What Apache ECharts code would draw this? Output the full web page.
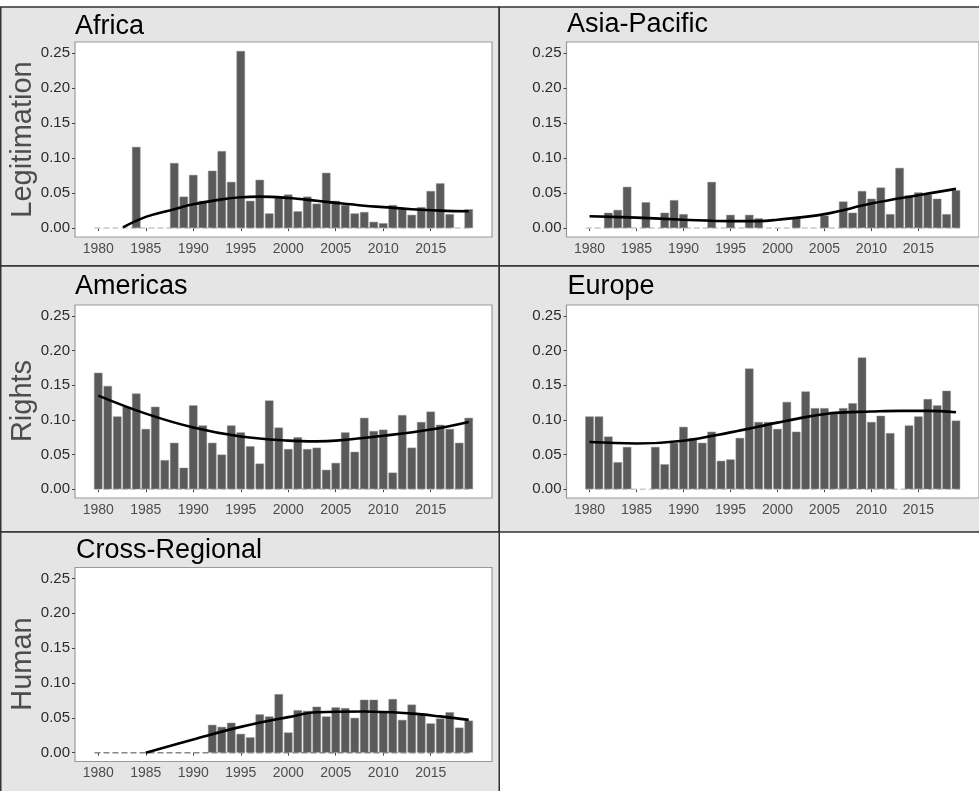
<!DOCTYPE html>
<html>
<head>
<meta charset="utf-8">
<script src="https://cdn.jsdelivr.net/npm/echarts@6/dist/echarts.min.js"></script>
<style>
  html, body { margin: 0; padding: 0; background: #fff; }
  #chart { width: 979px; height: 791px; }
</style>
</head>
<body>
<div id="chart"></div>
<script>
// years on the x axis
const years = [1980, 1981, 1982, 1983, 1984, 1985, 1986, 1987, 1988, 1989,
  1990, 1991, 1992, 1993, 1994, 1995, 1996, 1997, 1998, 1999,
  2000, 2001, 2002, 2003, 2004, 2005, 2006, 2007, 2008, 2009,
  2010, 2011, 2012, 2013, 2014, 2015, 2016, 2017, 2018, 2019];
const xTicks = [1980, 1985, 1990, 1995, 2000, 2005, 2010, 2015];
const yTicks = [0, 0.05, 0.1, 0.15, 0.2, 0.25];

// share per year, one value per entry of years
const africa = [0, 0, 0, 0, 0.116, 0, 0, 0, 0.093, 0.045,
  0.076, 0.039, 0.082, 0.110, 0.066, 0.253, 0.039, 0.069, 0.021, 0.045,
  0.048, 0.024, 0.045, 0.035, 0.079, 0.039, 0.033, 0.021, 0.023, 0.009,
  0.007, 0.033, 0.027, 0.019, 0.030, 0.053, 0.064, 0.020, 0, 0.027];
const asiaPacific = [0, 0, 0.022, 0.026, 0.059, 0, 0.037, 0, 0.022, 0.040,
  0.020, 0, 0, 0.066, 0, 0.019, 0, 0.019, 0.014, 0,
  0, 0, 0.015, 0, 0, 0.018, 0, 0.038, 0.022, 0.053,
  0.042, 0.058, 0.020, 0.086, 0.047, 0.051, 0.048, 0.042, 0.020, 0.054];
const americas = [0.168, 0.149, 0.105, 0.119, 0.138, 0.087, 0.119, 0.042, 0.067, 0.031,
  0.121, 0.092, 0.067, 0.050, 0.092, 0.082, 0.062, 0.037, 0.128, 0.089,
  0.058, 0.075, 0.058, 0.060, 0.028, 0.038, 0.082, 0.054, 0.103, 0.084,
  0.086, 0.024, 0.107, 0.060, 0.097, 0.112, 0.093, 0.087, 0.067, 0.103];
const europe = [0.105, 0.105, 0.076, 0.039, 0.061, 0, 0, 0.061, 0.036, 0.067,
  0.090, 0.074, 0.067, 0.083, 0.041, 0.043, 0.074, 0.174, 0.097, 0.097,
  0.087, 0.126, 0.083, 0.141, 0.117, 0.117, 0.112, 0.117, 0.124, 0.190,
  0.097, 0.106, 0.081, 0, 0.092, 0.105, 0.130, 0.121, 0.142, 0.099];
const crossRegional = [0, 0, 0, 0, 0, 0, 0, 0, 0, 0,
  0, 0, 0.040, 0.037, 0.043, 0.027, 0.022, 0.055, 0.052, 0.084,
  0.029, 0.061, 0.060, 0.066, 0.052, 0.065, 0.064, 0.050, 0.076, 0.076,
  0.058, 0.077, 0.047, 0.069, 0.056, 0.042, 0.049, 0.058, 0.036, 0.046];

// smoothed trend: [year, value]
const africaTrend = [[1982.6, 0.001], [1985, 0.016], [1988, 0.027], [1990, 0.034],
  [1993, 0.041], [1995, 0.044], [1997, 0.045], [2000, 0.043], [2003, 0.039],
  [2005, 0.036], [2008, 0.032], [2010, 0.030], [2013, 0.027], [2016, 0.025], [2019, 0.024]];
const asiaTrend = [[1980, 0.017], [1985, 0.015], [1990, 0.012], [1995, 0.010],
  [1998, 0.010], [2000, 0.012], [2005, 0.020], [2010, 0.035], [2015, 0.047], [2019, 0.056]];
const americasTrend = [[1980, 0.135], [1985, 0.109], [1990, 0.089], [1995, 0.076],
  [2000, 0.070], [2003, 0.069], [2005, 0.070], [2010, 0.077], [2015, 0.086], [2019, 0.097]];
const europeTrend = [[1980, 0.068], [1985, 0.066], [1990, 0.070], [1995, 0.082],
  [2000, 0.096], [2003, 0.104], [2006, 0.110], [2010, 0.112], [2013, 0.113],
  [2016, 0.113], [2019, 0.111]];
const crossTrend = [[1985, 0.000], [1990, 0.019], [1995, 0.037], [2000, 0.051],
  [2003, 0.058], [2008, 0.059], [2013, 0.056], [2016, 0.052], [2019, 0.047]];

// dashed zero line span
const zeroSpan = [1979.6, 2019.4];

const FONT = '"Liberation Sans", Arial, sans-serif';
const X_MIN = 1977.55, X_MAX = 2021.45;
const Y_MIN = -0.0127, Y_MAX = 0.2657;
const PLOT_W = 417;

const panels = [
  { name: 'Africa', vals: africa, trend: africaTrend, left: 75, top: 42, h: 195, tx: 75, ty: 13, dash: '#c8c8c8' },
  { name: 'Asia-Pacific', vals: asiaPacific, trend: asiaTrend, left: 566.5, top: 42, h: 195, tx: 567, ty: 11, dash: '#c8c8c8' },
  { name: 'Americas', vals: americas, trend: americasTrend, left: 75, top: 305, h: 193, tx: 75, ty: 273, dash: '#c8c8c8' },
  { name: 'Europe', vals: europe, trend: europeTrend, left: 566.5, top: 305, h: 193, tx: 567.5, ty: 273, dash: '#c8c8c8' },
  { name: 'Cross-Regional', vals: crossRegional, trend: crossTrend, left: 75, top: 567.5, h: 194, tx: 76, ty: 537, dash: '#888' }
];

const barW = PLOT_W * 0.9 / (X_MAX - X_MIN);

const grid = [], xAxis = [], yAxis = [], series = [], title = [];
panels.forEach((p, i) => {
  grid.push({
    left: p.left, top: p.top, width: PLOT_W, height: p.h,
    show: true, backgroundColor: '#fff', borderColor: '#9a9a9a', borderWidth: 1.2
  });
  xAxis.push({
    type: 'value', gridIndex: i, min: X_MIN, max: X_MAX,
    splitLine: { show: false },
    axisLine: { show: false },
    axisTick: { show: true, length: 3, customValues: xTicks, lineStyle: { color: '#444' } },
    axisLabel: {
      customValues: xTicks, color: '#4d4d4d', fontSize: 14, fontFamily: FONT, margin: 5,
      formatter: v => String(v)
    }
  });
  yAxis.push({
    type: 'value', gridIndex: i, min: Y_MIN, max: Y_MAX,
    splitLine: { show: false },
    axisLine: { show: false },
    axisTick: { show: true, length: 3, customValues: yTicks, lineStyle: { color: '#444' } },
    axisLabel: {
      customValues: yTicks, color: '#2b2b2b', fontSize: 15, fontFamily: FONT, margin: 5,
      formatter: v => v.toFixed(2)
    }
  });
  series.push({
    type: 'line', xAxisIndex: i, yAxisIndex: i, z: 1,
    data: zeroSpan.map(y => [y, 0]), showSymbol: false, silent: true,
    lineStyle: { color: p.dash, width: 1.5, type: [6, 3] }
  });
  series.push({
    type: 'bar', xAxisIndex: i, yAxisIndex: i, z: 2,
    data: years.map((y, k) => [y, p.vals[k]]).filter(d => d[1] > 0),
    barWidth: barW,
    itemStyle: { color: '#5a5a5a', borderColor: 'rgba(140,140,140,0.8)', borderWidth: 0.6 }
  });
  series.push({
    type: 'line', xAxisIndex: i, yAxisIndex: i, z: 3,
    data: p.trend, smooth: 0.4, showSymbol: false,
    lineStyle: { color: '#000', width: 2.6 }
  });
  title.push({
    text: p.name, left: p.tx, top: p.ty, padding: 0,
    textStyle: { fontFamily: FONT, fontSize: 27, fontWeight: 'normal', color: '#000' }
  });
});

const panelStroke = { stroke: '#333', lineWidth: 1.5 };
const rect = (x, y, w, h) => ({
  type: 'rect', z: -10, silent: true,
  shape: { x, y, width: w, height: h },
  style: Object.assign({ fill: '#e5e5e5' }, panelStroke)
});
const sideLabel = (text, y) => ({
  type: 'text', z: 10, silent: true, x: 23, y, rotation: Math.PI / 2,
  style: {
    text, font: '29px ' + FONT, fill: '#4d4d4d',
    align: 'center', verticalAlign: 'middle', textAlign: 'center', textVerticalAlign: 'middle'
  }
});

const option = {
  backgroundColor: '#fff',
  animation: false,
  title,
  grid, xAxis, yAxis, series,
  graphic: [
    rect(0.75, 7, 498.5, 259),
    rect(499.25, 7, 490, 259),
    rect(0.75, 266, 498.5, 266),
    rect(499.25, 266, 490, 266),
    rect(0.75, 532, 498.5, 270),
    sideLabel('Legitimation', 139.5),
    sideLabel('Rights', 401),
    sideLabel('Human', 664)
  ]
};

const chart = echarts.init(document.getElementById('chart'), null, { renderer: 'canvas' });
chart.setOption(option);
</script>
</body>
</html>
